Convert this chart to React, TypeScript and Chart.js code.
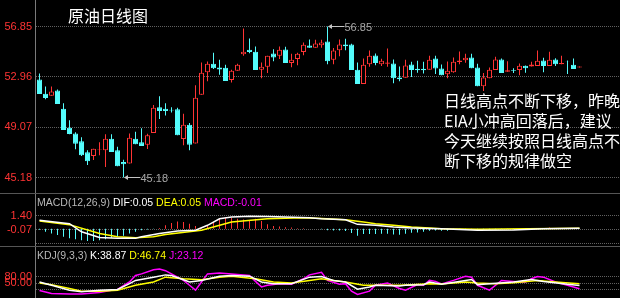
import React, { useEffect, useRef } from 'react';
import { Chart, registerables } from 'chart.js';

Chart.register(...registerables);

// ---------- price data (daily candles) ----------
const openP = [
  52.76, 51.66, 51.5, 51.91, 50.5, 49.03, 48.59, 47.98, 47.13, 46.84,
  47.34, 47.28, 48.18, 47.28, 46.38, 46.26, 48.18, 47.9, 47.72, 48.62,
  50.6, 50.5, 50.42, 50.45, 48.15, 49.26, 47.8, 51.58, 53.32, 53.97,
  53.69, 53.66, 52.71, 53.43, 54.71, 55.05, 54.9, 53.51, 53.74, 54.77,
  54.59, 55.08, 54.02, 54.33, 54.87, 55.38, 55.21, 55.41, 55.69, 54.28,
  55.02, 55.46, 55.46, 53.51, 52.4, 53.94, 54.61, 53.94, 53.97, 54.0,
  52.91, 52.89, 53.92, 53.59, 53.59, 53.51, 54.38, 53.61, 53.15, 53.32,
  54.1, 54.25, 54.46, 53.69, 52.24, 52.86, 53.48, 54.3, 53.35, 53.48,
  53.48, 53.82, 53.76, 53.79, 54.23, 53.79, 54.3, 53.94, 54.15, 53.9,
  53.69,
];
const highP = [
  53.22, 52.22, 52.22, 51.99, 50.91, 49.6, 48.67, 48.29, 47.28, 47.41,
  47.9, 48.52, 48.52, 47.55, 46.55, 48.59, 48.71, 48.98, 48.56, 50.79,
  51.45, 50.91, 50.6, 50.58, 50.11, 49.39, 52.3, 54.07, 54.15, 54.82,
  54.28, 53.89, 53.51, 53.97, 56.7, 55.92, 55.31, 54.07, 54.59, 55.1,
  55.31, 55.28, 54.74, 54.82, 55.62, 55.85, 55.82, 55.82, 56.85, 55.18,
  55.85, 55.9, 55.52, 54.07, 54.38, 55.0, 54.77, 54.36, 55.15, 54.3,
  53.76, 54.28, 54.13, 54.2, 54.13, 54.59, 54.59, 53.92, 54.15, 54.46,
  54.92, 54.74, 54.74, 53.97, 53.25, 53.69, 54.51, 54.38, 54.17, 53.63,
  54.0, 53.84, 54.13, 55.0, 54.43, 54.9, 54.4, 54.59, 54.23, 54.38,
  53.76,
];
const lowP = [
  51.64, 51.22, 51.5, 50.87, 48.85, 48.52, 47.36, 46.84, 46.15, 46.53,
  46.9, 45.99, 47.15, 46.05, 45.18, 46.26, 47.74, 47.61, 47.38, 48.62,
  49.71, 49.98, 50.21, 48.44, 47.67, 47.28, 47.8, 51.58, 52.61, 53.56,
  53.12, 52.63, 52.53, 53.43, 54.59, 54.79, 53.48, 52.86, 53.25, 54.17,
  54.33, 54.02, 53.71, 53.86, 54.63, 55.21, 55.21, 55.21, 53.94, 53.94,
  54.56, 55.02, 53.48, 52.4, 52.4, 53.74, 53.86, 53.79, 53.74, 52.47,
  52.61, 52.89, 52.94, 53.28, 53.22, 53.51, 53.17, 53.09, 52.86, 53.28,
  53.94, 54.05, 53.63, 52.24, 51.86, 52.86, 53.48, 53.25, 53.35, 53.25,
  53.09, 53.28, 53.76, 53.79, 53.32, 53.79, 53.79, 53.94, 53.17, 53.56,
  53.69,
];
const closeP = [
  51.64, 51.33, 51.83, 50.87, 48.85, 48.54, 47.78, 46.9, 46.43, 47.41,
  47.39, 48.18, 47.15, 46.05, 46.2, 48.26, 47.74, 47.61, 48.44, 50.58,
  50.31, 50.31, 50.35, 48.44, 49.26, 47.71, 51.35, 53.28, 53.97, 53.63,
  53.53, 52.63, 53.43, 53.89, 54.9, 54.87, 53.48, 53.74, 54.59, 54.46,
  55.05, 54.02, 54.28, 54.74, 55.44, 55.21, 55.54, 55.62, 54.17, 55.0,
  55.46, 55.33, 53.48, 52.4, 53.89, 54.59, 54.02, 54.2, 54.07, 52.86,
  52.78, 53.84, 53.48, 53.46, 53.46, 54.28, 53.61, 53.09, 53.43, 54.13,
  54.23, 54.43, 53.63, 52.24, 52.91, 53.51, 54.3, 53.25, 53.46, 53.43,
  53.82, 53.63, 53.92, 54.2, 53.79, 54.28, 53.94, 54.02, 54.13, 53.56,
  53.76,
];
const priceTicks = [45.18, 49.07, 52.96, 56.85];

// ---------- MACD(12,26,9) ----------
const macdHist = [
  -0.1, -0.31, -0.48, -0.65, -0.83, -1.0, -1.1, -1.2, -1.27, -1.27,
  -1.2, -1.1, -0.93, -0.83, -0.72, -0.48, -0.31, -0.14, -0.07, -0.03,
  0.1, 0.37, 0.61, 0.78, 0.72, 0.54, 0.3, 0.13, 0.37, 0.72,
  1.06, 1.16, 1.16, 1.06, 0.99, 0.92, 1.06, 0.82, 0.48, 0.3,
  0.24, 0.17, 0.13, 0.06, 0.05, 0.02, 0.0, -0.05, -0.14, -0.17,
  -0.17, -0.24, -0.45, -0.72, -0.55, -0.55, -0.55, -0.52, -0.52, -0.59,
  -0.62, -0.52, -0.41, -0.38, -0.31, -0.21, -0.17, -0.21, -0.21, -0.1,
  -0.07, -0.07, 0.03, -0.14, -0.1, -0.1, -0.07, -0.03, -0.03, -0.02,
  0.0, 0.03, 0.07, 0.1, 0.07, 0.13, 0.07, 0.03, 0.07, 0.03,
  -0.01,
];
const difIdx = [0, 5, 7, 10, 13, 16, 17, 20, 23, 26, 28, 30, 32, 35, 38, 41, 45, 47, 51, 53, 56, 59, 62, 65, 67, 73, 79, 84, 90];
const difVal = [0.89, 0.54, -0.31, -0.9, -1.0, -1.0, -0.83, -0.48, -0.24, -0.14, 0.37, 1.06, 1.23, 1.33, 1.3, 1.23, 1.16, 1.06, 0.95, 0.47, 0.37, 0.2, 0.1, 0.03, 0.0, -0.14, -0.11, 0.0, 0.05];
const deaIdx = [0, 5, 10, 13, 16, 19, 21, 27, 32, 38, 44, 47, 51, 54, 56, 59, 62, 65, 67, 73, 90];
const deaVal = [0.82, 0.44, -0.48, -0.83, -0.93, -0.83, -0.59, -0.14, 0.71, 1.06, 1.16, 1.09, 0.95, 0.71, 0.54, 0.37, 0.2, 0.1, 0.0, -0.04, 0.05];
const macdTicks = [1.4, -0.07, -1.54];

// ---------- KDJ(9,3,3) ----------
const kIdx = [0, 2, 5, 7, 10, 13, 15, 16, 19, 21, 22, 24, 25, 27, 30, 32, 35, 37, 39, 42, 45, 47, 49, 51, 53, 55, 56, 60, 61, 64, 65, 67, 71, 72, 73, 75, 79, 82, 84, 88, 90];
const kVal = [54.5, 39.5, 17, 9.5, 17, 20, 47, 62, 77, 87.5, 84.5, 65, 54.5, 62, 81.5, 84.5, 81.5, 54.5, 47, 47, 77, 80, 62, 54.5, 21.5, 32, 39.5, 36.5, 39.5, 42.5, 54.5, 44, 62, 66.5, 42.5, 47, 54.5, 66.5, 57.5, 44, 38.87];
const dIdx = [0, 2, 5, 7, 10, 13, 16, 19, 21, 24, 27, 30, 32, 36, 39, 42, 45, 47, 49, 51, 54, 56, 60, 62, 65, 67, 71, 73, 76, 79, 83, 86, 90];
const dVal = [50, 42.5, 24.5, 12.5, 12.5, 17, 39.5, 54.5, 77, 69.5, 65, 77, 81.5, 69.5, 54.5, 50, 62, 69.5, 62, 54.5, 39.5, 39.5, 39.5, 42.5, 47, 45.5, 54.5, 50, 47, 51.5, 62, 54.5, 46.74];
const jIdx = [0, 2, 5, 7, 10, 12, 13, 15, 16, 17, 19, 20, 21, 22, 24, 25, 26, 27, 28, 30, 32, 35, 36, 37, 38, 40, 42, 44, 45, 47, 48, 50, 51, 52, 53, 55, 56, 58, 60, 61, 63, 64, 65, 66, 67, 69, 71, 72, 73, 75, 77, 80, 81, 82, 83, 84, 86, 88, 90];
const jVal = [15.5, 2, -1, -1, 6.5, 17, 20, 55, 84.5, 92, 111.5, 114.5, 107, 92, 62, 39.5, 17, 54.5, 92, 96.5, 92, 84.5, 57.5, 32, 39.5, 47, 44, 69.5, 87.5, 99.5, 62, 44, 47, 12.5, -2.5, 12.5, 39.5, 50, 24.5, 17, 42.5, 39.5, 62, 57.5, 45.5, 62, 81.5, 77, 39.5, 17, 62, 54.5, 54.5, 69.5, 80, 77, 54.5, 39.5, 23.12];
const kdjTicks = [80, 50, 20];

// ---------- styling ----------
const RED = '#ff3434';
const CYAN = '#54fcfc';
const GRID = '#606060';
const AXIS = '#7a7a7a';
const TICK_FONT = { family: '"Liberation Sans", Arial, sans-serif', size: 11 };
const X_MIN = -0.75;
const X_MAX = 96.75;
const AXIS_W = 35;

const isUp = (i: number) => closeP[i] >= openP[i];

function yScale(min: number, max: number, ticks: number[], hidden: number[]) {
  return {
    position: 'left',
    min,
    max,
    afterBuildTicks: (s: any) => {
      s.ticks = ticks.map((v) => ({ value: v }));
    },
    afterFit: (s: any) => {
      s.width = AXIS_W;
      s.paddingTop = 0;
      s.paddingBottom = 0;
    },
    ticks: {
      color: RED,
      font: TICK_FONT,
      padding: 3,
      autoSkip: false,
      callback: (v: number) => (hidden.includes(v) ? '' : v.toFixed(2)),
    },
    grid: { color: GRID, lineWidth: 1, drawTicks: false },
    border: { display: true, color: AXIS, width: 1, dash: [1, 1] },
  };
}

const makeX = () => ({ type: 'linear', min: X_MIN, max: X_MAX, display: false, offset: false, grid: { offset: false } });

const baseOptions = {
  animation: false,
  responsive: false,
  maintainAspectRatio: false,
  layout: { padding: 0 },
  events: [],
  plugins: { legend: { display: false }, tooltip: { enabled: false }, title: { display: false } },
};

const hiLoPlugin = {
  id: 'hiLo',
  afterDatasetsDraw(chart: any) {
    const { ctx, scales } = chart;
    const xs = scales.x;
    const ys = scales.y;
    let hiI = 0;
    let loI = 0;
    highP.forEach((v, i) => { if (v > highP[hiI]) hiI = i; });
    lowP.forEach((v, i) => { if (v < lowP[loI]) loI = i; });
    const mark = (i: number, v: number) => {
      const px = xs.getPixelForValue(i) + 0.5;
      const py = Math.round(ys.getPixelForValue(v) - 0.5) + 0.5;
      ctx.save();
      ctx.fillStyle = '#c4c4c4';
      ctx.strokeStyle = '#c4c4c4';
      ctx.lineWidth = 1;
      ctx.beginPath();
      ctx.moveTo(px, py);
      ctx.lineTo(px + 4, py - 2.5);
      ctx.lineTo(px + 4, py + 2.5);
      ctx.closePath();
      ctx.fill();
      ctx.beginPath();
      ctx.moveTo(px + 4, py);
      ctx.lineTo(px + 16, py);
      ctx.stroke();
      ctx.font = '11px "Liberation Sans", Arial, sans-serif';
      ctx.textBaseline = 'middle';
      ctx.textAlign = 'left';
      ctx.fillStyle = '#a6a6a6';
      ctx.fillText(v.toFixed(2), px + 16.5, py + 1.5);
      ctx.restore();
    };
    mark(hiI, highP[hiI]);
    mark(loI, lowP[loI]);
  },
};

function pts(idx: number[], vals: number[]) {
  return idx.map((x, k) => ({ x, y: vals[k] }));
}

function lineDs(data: any[], color: string) {
  return {
    type: 'line',
    data,
    borderColor: color,
    borderWidth: 1.5,
    pointRadius: 0,
    tension: 0,
    fill: false,
  };
}

export default function App() {
  const mainRef = useRef<HTMLCanvasElement>(null);
  const macdRef = useRef<HTMLCanvasElement>(null);
  const kdjRef = useRef<HTMLCanvasElement>(null);

  useEffect(() => {
    const up = openP.map((_, i) => isUp(i));
    const main = new Chart(mainRef.current as HTMLCanvasElement, {
      type: 'bar',
      data: {
        datasets: [
          {
            label: 'body',
            data: openP.map((o, i) => ({ x: i, y: [o, closeP[i]] })),
            backgroundColor: up.map((u) => (u ? '#000000' : CYAN)),
            borderColor: up.map((u) => (u ? RED : CYAN)),
            borderWidth: 1,
            borderSkipped: false,
            barThickness: 5,
            grouped: false,
            inflateAmount: 0,
            order: 0,
          },
          {
            label: 'wick',
            data: lowP.map((l, i) => ({ x: i, y: [l, highP[i]] })),
            backgroundColor: up.map((u) => (u ? RED : CYAN)),
            borderWidth: 0,
            barThickness: 1,
            grouped: false,
            inflateAmount: 0,
            order: 1,
          },
        ],
      } as any,
      options: {
        ...baseOptions,
        scales: {
          x: makeX(),
          y: yScale(43.982, 58.898, priceTicks, []),
        },
      } as any,
      plugins: [hiLoPlugin],
    });

    const macd = new Chart(macdRef.current as HTMLCanvasElement, {
      type: 'bar',
      data: {
        datasets: [
          lineDs(pts(difIdx, difVal), '#ffffff'),
          lineDs(pts(deaIdx, deaVal), '#ffff00'),
          {
            type: 'bar',
            label: 'macd',
            data: macdHist.map((v, i) => ({ x: i, y: v })),
            backgroundColor: macdHist.map((v) => (v >= 0 ? RED : CYAN)),
            borderColor: macdHist.map((v) => (v >= 0 ? RED : CYAN)),
            borderWidth: 0,
            barThickness: 1,
            grouped: false,
            inflateAmount: 0,
          },
        ],
      } as any,
      options: {
        ...baseOptions,
        scales: {
          x: makeX(),
          y: yScale(-1.803, 3.657, macdTicks, [-1.54]),
        },
      } as any,
    });

    const kdj = new Chart(kdjRef.current as HTMLCanvasElement, {
      type: 'line',
      data: {
        datasets: [
          lineDs(pts(kIdx, kVal), '#ffffff'),
          lineDs(pts(dIdx, dVal), '#ffff00'),
          lineDs(pts(jIdx, jVal), '#ff00ff'),
        ],
      } as any,
      options: {
        ...baseOptions,
        scales: {
          x: makeX(),
          y: yScale(-19.2, 216.2, kdjTicks, [20]),
        },
      } as any,
    });

    return () => {
      main.destroy();
      macd.destroy();
      kdj.destroy();
    };
  }, []);

  const abs = (left: number, top: number): React.CSSProperties => ({
    position: 'absolute',
    left,
    top,
    whiteSpace: 'nowrap',
  });
  const lat: React.CSSProperties = {
    fontFamily: '"Liberation Sans", Arial, sans-serif',
    fontSize: 10.5,
    lineHeight: '11px',
  };
  const cjk: React.CSSProperties = {
    fontFamily: '"Noto Sans CJK SC", sans-serif',
    fontSize: 16,
    color: '#ffffff',
  };

  return (
    <div
      style={{
        position: 'fixed',
        left: 0,
        top: 0,
        width: 620,
        height: 298,
        background: '#000',
        overflow: 'hidden',
      }}
    >
      <canvas ref={mainRef} width={620} height={193} style={{ position: 'absolute', left: 0, top: 0, width: 620, height: 193 }} />
      <div style={{ position: 'absolute', left: 0, top: 193, width: 620, height: 1, background: '#555' }} />
      <canvas ref={macdRef} width={620} height={52} style={{ position: 'absolute', left: 0, top: 194, width: 620, height: 52 }} />
      <div style={{ position: 'absolute', left: 0, top: 246, width: 620, height: 1, background: '#555' }} />
      <canvas ref={kdjRef} width={620} height={51} style={{ position: 'absolute', left: 0, top: 247, width: 620, height: 51 }} />

      <div style={{ ...abs(68, 7), ...cjk, lineHeight: '16px' }}>原油日线图</div>
      <div style={{ ...abs(444, 90), ...cjk, lineHeight: '20px' }}>
        <div>日线高点不断下移，昨晚</div>
        <div>EIA小冲高回落后，建议</div>
        <div>今天继续按照日线高点不</div>
        <div>断下移的规律做空</div>
      </div>

      <div style={{ ...abs(37, 197), ...lat }}>
        <span style={{ color: '#b8b8b8' }}>MACD(12,26,9)</span>{' '}
        <span style={{ color: '#ffffff' }}>DIF:0.05</span>{' '}
        <span style={{ color: '#ffff00' }}>DEA:0.05</span>{' '}
        <span style={{ color: '#ff00ff' }}>MACD:-0.01</span>
      </div>

      <div style={{ ...abs(37, 250), ...lat }}>
        <span style={{ color: '#b8b8b8' }}>KDJ(9,3,3)</span>{' '}
        <span style={{ color: '#ffffff' }}>K:38.87</span>{' '}
        <span style={{ color: '#ffff00' }}>D:46.74</span>{' '}
        <span style={{ color: '#ff00ff' }}>J:23.12</span>
      </div>
    </div>
  );
}
